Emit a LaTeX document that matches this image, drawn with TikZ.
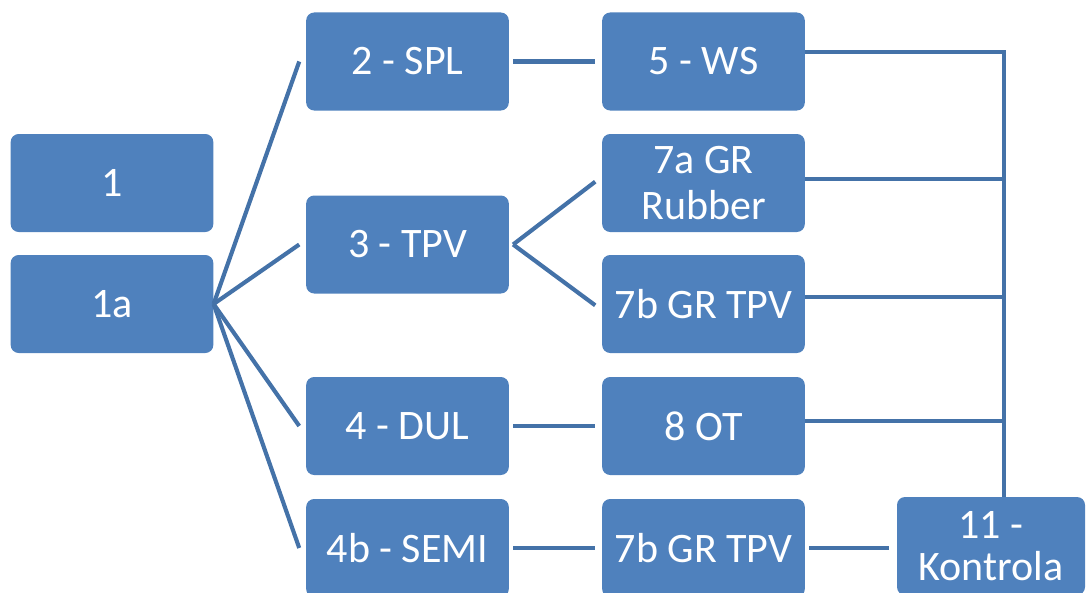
\documentclass[tikz,border=0pt]{standalone}
\usepackage{fontspec}
\setmainfont{Carlito}
\usetikzlibrary{positioning}
\definecolor{boxblue}{RGB}{79,129,189}
\definecolor{lineblue}{RGB}{68,114,168}
\tikzset{
  stage/.style={fill=boxblue, rounded corners=6pt, minimum width=152pt, minimum height=73.5pt,
    inner sep=0pt, text=white, align=center,
    font=\fontsize{31.5pt}{34pt}\selectfont},
  link/.style={draw=lineblue, line width=3.1pt}
}
\begin{document}
\begin{tikzpicture}[x=0.75pt,y=-0.75pt]
  \useasboundingbox (0,0) rectangle (1091,592);
  \node[stage] (s1)  at (112,183)   {1};
  \node[stage] (s1a) at (112,304)   {1a};
  \node[stage] (s2)  at (407.5,61.5)  {2 - SPL};
  \node[stage] (s3)  at (407.5,244.5) {3 - TPV};
  \node[stage] (s4)  at (407.5,426)   {4 - DUL};
  \node[stage] (s4b) at (407.5,548)   {4b - SEMI};
  \node[stage] (s5)  at (703.5,61.5)  {5 - WS};
  \node[stage] (s7a) at (703.5,183)   {7a GR\\Rubber};
  \node[stage] (s7b) at (703.5,304)   {7b GR TPV};
  \node[stage] (s8)  at (703.5,426)   {8 OT};
  \node[stage] (s7c) at (703.5,548)   {7b GR TPV};
  \node[stage, minimum width=141pt, font=\fontsize{31.5pt}{32pt}\selectfont] (s11) at (991,546) {11 -\\Kontrola};
  \coordinate (bus) at ([xshift=9.75pt]s11.north);
  % fan out of 1a
  \foreach \t in {s2,s3,s4,s4b}
    \draw[link] (s1a.east) -- ([xshift=-5pt]\t.west);
  % second column
  \draw[link] ([xshift=3pt]s2.east) -- ([xshift=-5pt]s5.west);
  \draw[link] ([xshift=3pt]s3.east) -- ([xshift=-5pt,yshift=1pt]s7a.west);
  \draw[link] ([xshift=3pt]s3.east) -- ([xshift=-5pt,yshift=-1pt]s7b.west);
  \draw[link] ([xshift=3pt]s4.east) -- ([xshift=-5pt]s8.west);
  \draw[link] ([xshift=3pt]s4b.east) -- ([xshift=-5pt]s7c.west);
  \draw[link] ([xshift=3pt]s7c.east) -- ([xshift=-6pt]s11.west |- s7c.west);
  % collector into 11
  \draw[link] ([yshift=7pt]s5.east) -| (bus);
  \draw[link] ([yshift=3pt]s7a.east) -- ([yshift=3pt]s7a.east -| bus);
  \draw[link] ([yshift=5pt]s7b.east) -- ([yshift=5pt]s7b.east -| bus);
  \draw[link] ([yshift=4pt]s8.east) -- ([yshift=4pt]s8.east -| bus);
\end{tikzpicture}
\end{document}
